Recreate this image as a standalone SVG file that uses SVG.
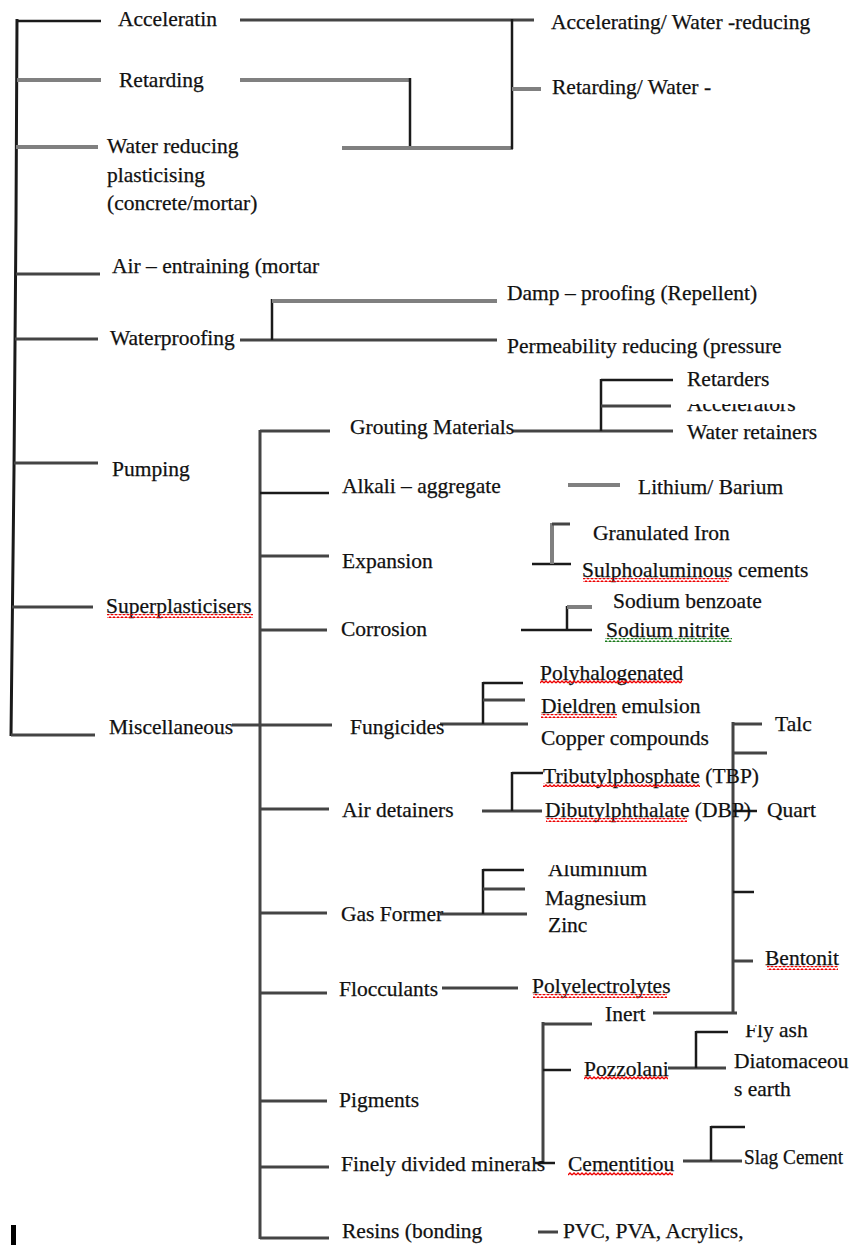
<svg xmlns="http://www.w3.org/2000/svg" width="853" height="1245" viewBox="0 0 853 1245">
<style>
text{font-family:"Liberation Serif","Times New Roman",serif;font-size:21.5px;fill:#111;stroke:#111;stroke-width:0.25}
line,polyline{fill:none;stroke-linecap:butt}
.k{stroke:#1a1a1a;stroke-width:2.5}
.d{stroke:#444;stroke-width:3}
.g{stroke:#808080;stroke-width:4}
</style>
<defs>
<pattern id="wr" width="4" height="4" patternUnits="userSpaceOnUse"><path d="M0 3 L2 1 L4 3" fill="none" stroke="#e00" stroke-width="1.3"/></pattern>
<pattern id="wg" width="4" height="4" patternUnits="userSpaceOnUse"><path d="M0 3 L2 1 L4 3" fill="none" stroke="#1a7a1a" stroke-width="1.3"/></pattern>
<clipPath id="cAcc"><rect x="680" y="404" width="160" height="20"/></clipPath>
<clipPath id="cAlu"><rect x="540" y="865" width="120" height="20"/></clipPath>
<clipPath id="cFly"><rect x="740" y="1025" width="100" height="20"/></clipPath>
</defs>
<rect width="853" height="1245" fill="#fff"/>
<g id="connectors">
<polyline class="k" points="17,19 16,220 14,470 11,736" style="stroke-width:3"/>
<line class="k" x1="17" y1="21" x2="101" y2="21"/>
<line class="g" x1="17" y1="80" x2="101" y2="80"/>
<line class="g" x1="16" y1="147" x2="98" y2="147"/>
<line class="d" x1="16" y1="274" x2="100" y2="274"/>
<line class="d" x1="15" y1="339" x2="98" y2="339"/>
<line class="d" x1="14" y1="463" x2="98" y2="463"/>
<line class="d" x1="12" y1="607" x2="93" y2="607"/>
<line class="d" x1="11" y1="735" x2="95" y2="735"/>
<line class="d" x1="240" y1="20" x2="534" y2="20"/>
<line class="g" x1="240" y1="80" x2="410" y2="80"/>
<line class="k" x1="410" y1="78" x2="410" y2="148"/>
<line class="g" x1="342" y1="148" x2="513" y2="148"/>
<line class="k" x1="512" y1="19" x2="512" y2="149"/>
<line class="g" x1="512" y1="89" x2="541" y2="89"/>
<line class="d" x1="240" y1="340" x2="497" y2="340"/>
<line class="k" x1="272" y1="299" x2="272" y2="340"/>
<line class="g" x1="272" y1="301" x2="497" y2="301"/>
<line class="d" x1="260" y1="430" x2="260" y2="1239"/>
<line class="d" x1="260" y1="431" x2="330" y2="431"/>
<line class="k" x1="260" y1="493" x2="329" y2="493"/>
<line class="d" x1="260" y1="556" x2="329" y2="556"/>
<line class="d" x1="260" y1="630" x2="327" y2="630"/>
<line class="d" x1="232" y1="725" x2="332" y2="725"/>
<line class="d" x1="260" y1="809" x2="329" y2="809"/>
<line class="d" x1="260" y1="913" x2="327" y2="913"/>
<line class="d" x1="260" y1="993" x2="327" y2="993"/>
<line class="d" x1="260" y1="1101" x2="327" y2="1101"/>
<line class="d" x1="260" y1="1167" x2="329" y2="1167"/>
<line class="d" x1="260" y1="1238" x2="329" y2="1238"/>
<line class="d" x1="513" y1="431" x2="673" y2="431"/>
<line class="k" x1="601" y1="379" x2="601" y2="431"/>
<line class="k" x1="601" y1="380" x2="673" y2="380"/>
<line class="d" x1="601" y1="406" x2="671" y2="406"/>
<line class="g" x1="568" y1="485" x2="620" y2="485"/>
<line class="k" x1="532" y1="564" x2="571" y2="564"/>
<line class="g" x1="552" y1="523" x2="552" y2="564"/>
<line class="d" x1="552" y1="524" x2="570" y2="524"/>
<line class="k" x1="521" y1="630" x2="592" y2="630"/>
<line class="k" x1="567" y1="606" x2="567" y2="630"/>
<line class="g" x1="567" y1="607" x2="592" y2="607"/>
<line class="d" x1="440" y1="724" x2="528" y2="724"/>
<line class="k" x1="483" y1="682" x2="483" y2="724"/>
<line class="k" x1="483" y1="683" x2="523" y2="683"/>
<line class="d" x1="483" y1="700" x2="525" y2="700"/>
<line class="d" x1="482" y1="811" x2="542" y2="811"/>
<line class="k" x1="512" y1="772" x2="512" y2="811"/>
<line class="k" x1="512" y1="773" x2="543" y2="773"/>
<line class="d" x1="440" y1="914" x2="527" y2="914"/>
<line class="k" x1="483" y1="869" x2="483" y2="914"/>
<line class="k" x1="483" y1="870" x2="524" y2="870"/>
<line class="d" x1="483" y1="889" x2="525" y2="889"/>
<line class="d" x1="442" y1="988" x2="518" y2="988"/>
<line class="d" x1="733" y1="722" x2="733" y2="1014"/>
<line class="d" x1="733" y1="724" x2="762" y2="724"/>
<line class="d" x1="733" y1="753" x2="767" y2="753"/>
<line class="k" x1="733" y1="811" x2="757" y2="811"/>
<line class="k" x1="733" y1="892" x2="754" y2="892"/>
<line class="d" x1="733" y1="961" x2="753" y2="961"/>
<line class="d" x1="653" y1="1013" x2="737" y2="1013"/>
<line class="d" x1="543" y1="1022" x2="543" y2="1164"/>
<line class="d" x1="543" y1="1024" x2="592" y2="1024"/>
<line class="k" x1="543" y1="1070" x2="571" y2="1070"/>
<line class="k" x1="535" y1="1163" x2="555" y2="1163"/>
<line class="d" x1="668" y1="1068" x2="726" y2="1068"/>
<line class="k" x1="696" y1="1031" x2="696" y2="1068"/>
<line class="k" x1="696" y1="1032" x2="728" y2="1032"/>
<line class="d" x1="683" y1="1161" x2="742" y2="1161"/>
<line class="k" x1="711" y1="1126" x2="711" y2="1161"/>
<line class="k" x1="711" y1="1127" x2="745" y2="1127"/>
<line class="d" x1="538" y1="1232" x2="558" y2="1232"/>
</g>
<g id="n-acceleratin"><text x="118" y="26">Acceleratin</text></g>
<g id="n-retarding"><text x="119" y="87">Retarding</text></g>
<g id="n-water-reducing"><text x="107" y="153">Water reducing</text><text x="107" y="182">plasticising</text><text x="107" y="210">(concrete/mortar)</text></g>
<g id="n-acc-water"><text x="551" y="29">Accelerating/ Water -reducing</text></g>
<g id="n-ret-water"><text x="552" y="94">Retarding/ Water -</text></g>
<g id="n-air"><text x="112" y="273">Air – entraining (mortar</text></g>
<g id="n-waterproofing"><text x="110" y="345">Waterproofing</text></g>
<g id="n-damp"><text x="507" y="300">Damp – proofing (Repellent)</text></g>
<g id="n-perm"><text x="507" y="353">Permeability reducing (pressure</text></g>
<g id="n-pumping"><text x="112" y="476">Pumping</text></g>
<g id="n-superplasticisers"><text x="106" y="613">Superplasticisers</text><rect x="107" y="614" width="146" height="4" fill="url(#wr)"/></g>
<g id="n-misc"><text x="109" y="734">Miscellaneous</text></g>
<g id="n-grouting"><text x="350" y="434">Grouting Materials</text></g>
<g id="n-retarders"><text x="687" y="386">Retarders</text></g>
<g id="n-accelerators"><text x="687" y="411" clip-path="url(#cAcc)">Accelerators</text></g>
<g id="n-water-ret"><text x="687" y="439">Water retainers</text></g>
<g id="n-alkali"><text x="342" y="493">Alkali – aggregate</text></g>
<g id="n-lithium"><text x="638" y="494">Lithium/ Barium</text></g>
<g id="n-expansion"><text x="342" y="568">Expansion</text></g>
<g id="n-gran-iron"><text x="593" y="540">Granulated Iron</text></g>
<g id="n-sulpho"><text x="582" y="577">Sulphoaluminous cements</text><rect x="583" y="578" width="146" height="4" fill="url(#wr)"/></g>
<g id="n-corrosion"><text x="341" y="636">Corrosion</text></g>
<g id="n-benzoate"><text x="613" y="608">Sodium benzoate</text></g>
<g id="n-nitrite"><text x="606" y="637">Sodium nitrite</text><rect x="605" y="638" width="127" height="4" fill="url(#wg)"/></g>
<g id="n-fungicides"><text x="350" y="734">Fungicides</text></g>
<g id="n-polyhalo"><text x="540" y="680">Polyhalogenated</text><rect x="540" y="680" width="142" height="4" fill="url(#wr)"/></g>
<g id="n-dieldren"><text x="541" y="713">Dieldren emulsion</text><rect x="541" y="714" width="76" height="4" fill="url(#wr)"/></g>
<g id="n-copper"><text x="541" y="745">Copper compounds</text></g>
<g id="n-air-detainers"><text x="342" y="817">Air detainers</text></g>
<g id="n-tbp"><text x="543" y="783">Tributylphosphate (TBP)</text><rect x="543" y="783" width="157" height="4" fill="url(#wr)"/></g>
<g id="n-dbp"><text x="545" y="817">Dibutylphthalate (DBP)</text><rect x="546" y="818" width="141" height="4" fill="url(#wr)"/></g>
<g id="n-talc"><text x="775" y="731">Talc</text></g>
<g id="n-quart"><text x="767" y="817">Quart</text></g>
<g id="n-bentonit"><text x="765" y="965">Bentonit</text><rect x="767" y="966" width="71" height="4" fill="url(#wr)"/></g>
<g id="n-gas"><text x="341" y="921">Gas Former</text></g>
<g id="n-aluminium"><text x="548" y="876" clip-path="url(#cAlu)">Aluminium</text></g>
<g id="n-magnesium"><text x="545" y="905">Magnesium</text></g>
<g id="n-zinc"><text x="548" y="932">Zinc</text></g>
<g id="n-flocculants"><text x="339" y="996">Flocculants</text></g>
<g id="n-polyelec"><text x="532" y="993">Polyelectrolytes</text><rect x="533" y="994" width="134" height="4" fill="url(#wr)"/></g>
<g id="n-pigments"><text x="339" y="1107">Pigments</text></g>
<g id="n-finely"><text x="341" y="1171">Finely divided minerals</text></g>
<g id="n-inert"><text x="605" y="1021">Inert</text></g>
<g id="n-pozzolani"><text x="584" y="1076">Pozzolani</text><rect x="584" y="1076" width="84" height="4" fill="url(#wr)"/></g>
<g id="n-flyash"><text x="745" y="1037" clip-path="url(#cFly)">Fly ash</text></g>
<g id="n-diatom"><text x="734" y="1068">Diatomaceou</text><text x="734" y="1096">s earth</text></g>
<g id="n-cementitiou"><text x="568" y="1171">Cementitiou</text><rect x="568" y="1172" width="105" height="4" fill="url(#wr)"/></g>
<g id="n-slag"><text x="744" y="1164" textLength="99" lengthAdjust="spacingAndGlyphs">Slag Cement</text></g>
<g id="n-resins"><text x="342" y="1238">Resins (bonding</text></g>
<g id="n-pvc"><text x="563" y="1238">PVC, PVA, Acrylics,</text></g>
<rect x="11" y="1225" width="5" height="20" fill="#000"/>
</svg>
